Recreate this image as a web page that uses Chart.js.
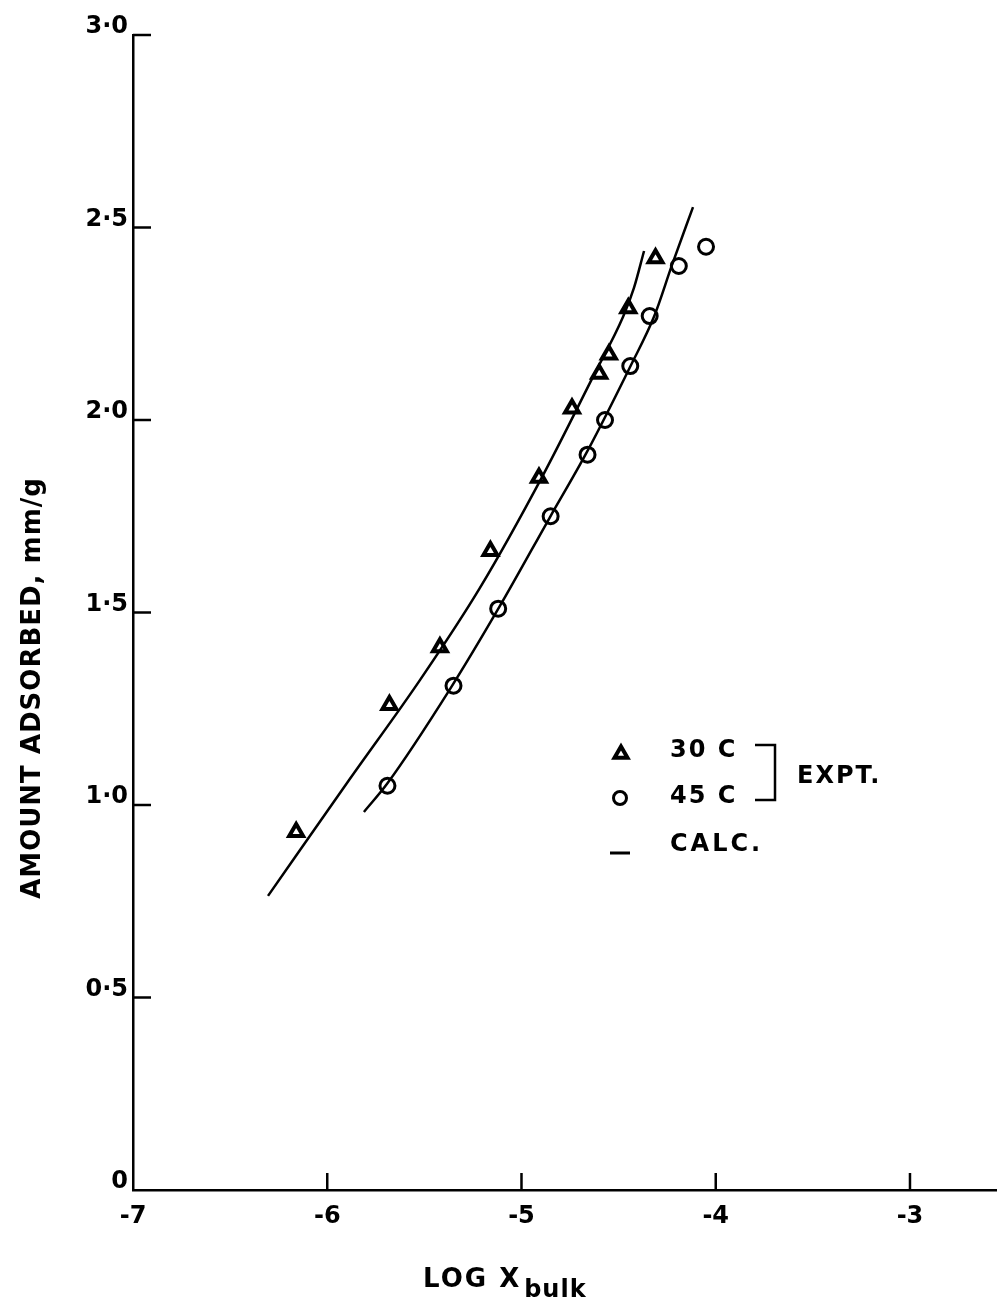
<!DOCTYPE html>
<html><head><meta charset="utf-8">
<script src="https://cdn.jsdelivr.net/npm/chart.js@4.4.1/dist/chart.umd.min.js"></script>
<style>html,body{margin:0;padding:0;background:#fff}#wrap{width:997px;height:1304px;position:relative}</style>
</head><body><div id="wrap"><canvas id="c" width="997" height="1304"></canvas></div>
<script>
// ---- data ----
const xTickValues = [-7, -6, -5, -4, -3];
const xTickLabels = ['-7', '-6', '-5', '-4', '-3'];
const yTickValues = [0, 0.5, 1, 1.5, 2, 2.5, 3];
const yTickLabels = ['0', '0·5', '1·0', '1·5', '2·0', '2·5', '3·0'];

const expt30X = [-6.16, -5.68, -5.42, -5.16, -4.91, -4.74, -4.60, -4.55, -4.45, -4.31];
const expt30Y = [0.93, 1.26, 1.41, 1.66, 1.85, 2.03, 2.12, 2.17, 2.29, 2.42];
const expt45X = [-5.69, -5.35, -5.12, -4.85, -4.66, -4.57, -4.44, -4.34, -4.19, -4.05];
const expt45Y = [1.05, 1.31, 1.51, 1.75, 1.91, 2.00, 2.14, 2.27, 2.40, 2.45];

const calc30X = [-6.305, -5.883, -5.522, -5.214, -4.889, -4.632, -4.477, -4.421, -4.369];
const calc30Y = [0.764, 1.068, 1.325, 1.564, 1.857, 2.112, 2.268, 2.343, 2.439];
const calc45X = [-5.811, -5.692, -5.368, -5.111, -4.853, -4.663, -4.436, -4.318, -4.225, -4.117];
const calc45Y = [0.982, 1.055, 1.301, 1.517, 1.748, 1.917, 2.143, 2.268, 2.403, 2.553];

const legendLabels = ['30 C', '45 C', 'CALC.'];
const bracketLabel = 'EXPT.';
const xTitle = 'LOG X';
const xTitleSub = 'bulk';
const yTitle = 'AMOUNT ADSORBED, mm/g';

const pts = (xs, ys) => xs.map((x, i) => ({x: x, y: ys[i]}));
const FONT = '"DejaVu Sans", "Liberation Sans", Arial, sans-serif';

const decor = {
  id: 'decor',
  afterDraw(chart) {
    const ctx = chart.ctx, xs = chart.scales.x, ys = chart.scales.y, ca = chart.chartArea;
    ctx.save();
    ctx.strokeStyle = '#000'; ctx.fillStyle = '#000'; ctx.lineWidth = 2.5; ctx.lineCap = 'butt';
    // inward tick marks
    yTickValues.forEach(v => {
      if (v === 0) return;
      const p = ys.getPixelForValue(v);
      ctx.beginPath(); ctx.moveTo(ca.left, p); ctx.lineTo(ca.left + 18, p); ctx.stroke();
    });
    xTickValues.forEach(v => {
      if (v === -7) return;
      const p = xs.getPixelForValue(v);
      ctx.beginPath(); ctx.moveTo(p, ca.bottom); ctx.lineTo(p, ca.bottom - 17); ctx.stroke();
    });
    // legend
    ctx.fillStyle = '#fff';
    ctx.lineWidth = 4;
    Chart.helpers.drawPoint(ctx, {pointStyle: 'triangle', radius: 7.5, borderWidth: 4}, 621, 754);
    ctx.lineWidth = 3;
    Chart.helpers.drawPoint(ctx, {pointStyle: 'circle', radius: 6.5, borderWidth: 3}, 620, 798);
    ctx.fillStyle = '#000';
    ctx.lineWidth = 3;
    ctx.beginPath(); ctx.moveTo(610, 853); ctx.lineTo(630, 853); ctx.stroke();
    ctx.font = 'bold 24px ' + FONT;
    ctx.textAlign = 'left'; ctx.textBaseline = 'middle';
    ctx.letterSpacing = '2px';
    ctx.fillText(legendLabels[0], 670, 751);
    ctx.fillText(legendLabels[1], 670, 797);
    ctx.letterSpacing = '3px';
    ctx.fillText(legendLabels[2], 670, 845);
    ctx.letterSpacing = '2px';
    ctx.fillText(bracketLabel, 797, 777);
    ctx.lineWidth = 2.5;
    ctx.beginPath(); ctx.moveTo(755, 745); ctx.lineTo(775, 745); ctx.lineTo(775, 800); ctx.lineTo(755, 800); ctx.stroke();
    // x title
    ctx.font = 'bold 26px ' + FONT;
    ctx.textBaseline = 'alphabetic';
    ctx.letterSpacing = '2px';
    ctx.fillText(xTitle, 423, 1287);
    const w = ctx.measureText(xTitle).width;
    ctx.font = 'bold 24px ' + FONT;
    ctx.letterSpacing = '1px';
    ctx.fillText(xTitleSub, 423 + w + 3, 1297);
    // y title
    ctx.translate(33, 688);
    ctx.rotate(-Math.PI / 2);
    ctx.font = 'bold 26px ' + FONT;
    ctx.letterSpacing = '1px';
    ctx.textAlign = 'center'; ctx.textBaseline = 'middle';
    ctx.fillText(yTitle, 0, 0);
    ctx.restore();
  }
};

new Chart(document.getElementById('c'), {
  type: 'scatter',
  data: {
    datasets: [
      {label: 'calc30', data: pts(calc30X, calc30Y), showLine: true, pointRadius: 0, borderColor: '#000', borderWidth: 2.5, cubicInterpolationMode: 'monotone', fill: false},
      {label: 'calc45', data: pts(calc45X, calc45Y), showLine: true, pointRadius: 0, borderColor: '#000', borderWidth: 2.5, cubicInterpolationMode: 'monotone', fill: false},
      {label: '30 C', data: pts(expt30X, expt30Y), pointStyle: 'triangle', pointRadius: 8, borderWidth: 4, borderColor: '#000', backgroundColor: '#fff'},
      {label: '45 C', data: pts(expt45X, expt45Y), pointStyle: 'circle', pointRadius: 7.5, borderWidth: 3, borderColor: '#000', backgroundColor: '#fff'}
    ]
  },
  options: {
    responsive: false, devicePixelRatio: 1, animation: false,
    layout: {autoPadding: false, padding: {top: 35, right: 0, left: 0, bottom: 0}},
    plugins: {legend: {display: false}, tooltip: {enabled: false}, title: {display: false}},
    scales: {
      x: {
        type: 'linear', min: -7, max: -2.552,
        afterBuildTicks: s => { s.ticks = xTickValues.map(v => ({value: v})); },
        afterFit: s => { s.height = 114; s.paddingRight = 0; s.paddingLeft = 0; },
        ticks: {callback: v => xTickLabels[xTickValues.indexOf(v)], font: {family: FONT, size: 24, weight: 'bold'}, color: '#000', padding: 12, maxRotation: 0, autoSkip: false},
        grid: {display: false, drawTicks: false},
        border: {display: true, color: '#000', width: 2.5}
      },
      y: {
        type: 'linear', min: 0, max: 3,
        afterBuildTicks: s => { s.ticks = yTickValues.map(v => ({value: v})); },
        afterFit: s => { s.width = 133; s.paddingTop = 0; s.paddingBottom = 0; },
        ticks: {callback: v => yTickLabels[yTickValues.indexOf(v)], font: {family: FONT, size: 24, weight: 'bold'}, color: '#000', padding: 5, labelOffset: -8, autoSkip: false},
        grid: {display: false, drawTicks: false},
        border: {display: true, color: '#000', width: 2.5}
      }
    }
  },
  plugins: [decor]
});
</script></body></html>
